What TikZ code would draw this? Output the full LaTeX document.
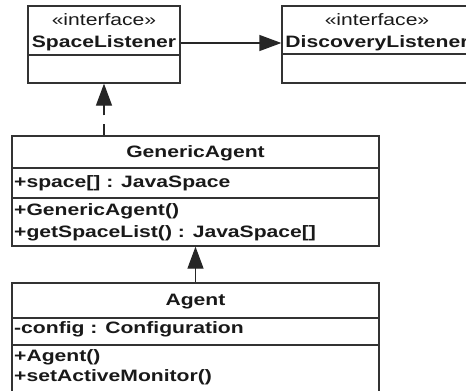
\documentclass[tikz,border=0pt]{standalone}
\usepackage{fontspec}
\setmainfont[FakeStretch=1.28]{Liberation Sans}
\usetikzlibrary{arrows.meta}
\begin{document}
\begin{tikzpicture}[x=1pt,y=-1pt,
  umlbox/.style={draw=black!80, line width=1.3pt, fill=white, inner sep=0pt},
  sep/.style={draw=black!80, line width=1.3pt},
  txt/.style={inner sep=0pt, anchor=base, font=\fontsize{16.5}{18}\selectfont\bfseries, text=black!90},
  ltxt/.style={txt, anchor=base west},
  stereo/.style={inner sep=0pt, anchor=base, font=\fontsize{16.5}{18}\selectfont, text=black!90},
  conn/.style={draw=black!85, line width=1.3pt, -{Triangle[length=22pt,width=16pt]}},
  dconn/.style={conn, dash pattern=on 11pt off 9pt}
]
\clip (0,0) rectangle (466,391);
\fill[white] (0,0) rectangle (466,391);

% SpaceListener
\node[umlbox, minimum width=152pt, minimum height=77pt] (sl) at (104,44.5) {};
\draw[sep] (28,55) -- (180,55);
\node[stereo] (slst) at (104,25) {«interface»};
\node[txt] (slname) at (104,47) {SpaceListener};

% DiscoveryListener
\node[umlbox, minimum width=190pt, minimum height=77pt] (dl) at (377,44.5) {};
\draw[sep] (282,54) -- (472,54);
\node[stereo] (dlst) at (377,25) {«interface»};
\node[txt] (dlname) at (377,47) {DiscoveryListener};

% GenericAgent
\node[umlbox, minimum width=367pt, minimum height=110pt] (ga) at (195.5,191) {};
\draw[sep] (12,168) -- (379,168);
\draw[sep] (12,198) -- (379,198);
\node[txt] (ganame) at (195.5,157) {GenericAgent};
\node[ltxt] (gaattr) at (14,187) {+space[] : JavaSpace};
\node[ltxt] (gaop1) at (14,215) {+GenericAgent()};
\node[ltxt] (gaop2) at (14,237) {+getSpaceList() : JavaSpace[]};

% Agent
\node[umlbox, minimum width=367pt, minimum height=130pt] (ag) at (195.5,348) {};
\draw[sep] (12,318) -- (379,318);
\draw[sep] (12,345) -- (379,345);
\node[txt] (agname) at (195.5,305) {Agent};
\node[ltxt] (agattr) at (14,333) {-config : Configuration};
\node[ltxt] (agop1) at (14,361) {+Agent()};
\node[ltxt] (agop2) at (14,381) {+setActiveMonitor()};

% connectors
\draw[conn] (sl.east |- 0,43) -- (dl.west |- 0,43);
\draw[dconn] (ga.north -| sl.south) -- (sl.south);
\draw[conn] (ag.north) -- (ga.south);
\end{tikzpicture}
\end{document}
